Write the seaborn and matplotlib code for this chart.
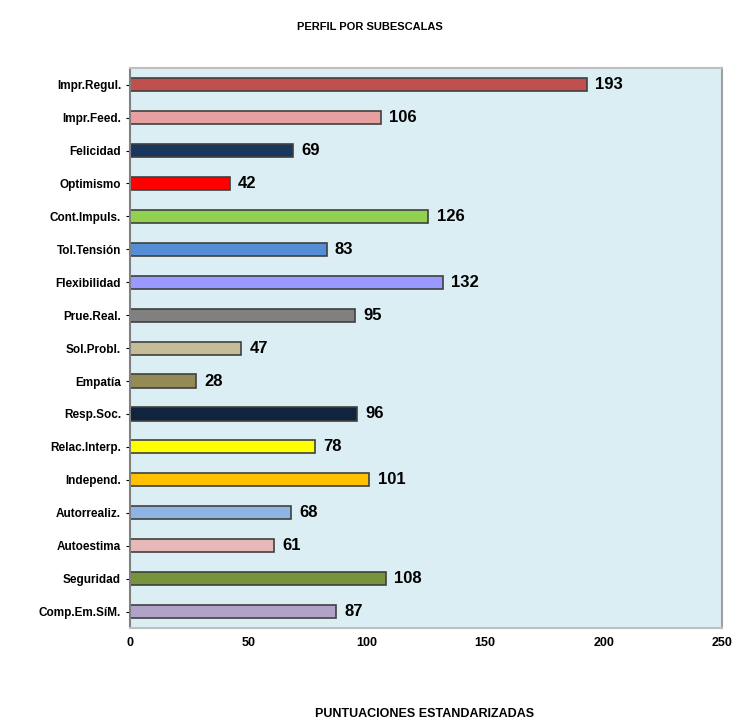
import pandas as pd
import matplotlib.pyplot as plt
import seaborn as sns

# subescalas y puntuaciones
subescalas = ["Impr.Regul.", "Impr.Feed.", "Felicidad", "Optimismo", "Cont.Impuls.",
              "Tol.Tensión", "Flexibilidad", "Prue.Real.", "Sol.Probl.", "Empatía",
              "Resp.Soc.", "Relac.Interp.", "Independ.", "Autorrealiz.", "Autoestima",
              "Seguridad", "Comp.Em.SíM."]
puntuaciones = [193, 106, 69, 42, 126, 83, 132, 95, 47, 28, 96, 78, 101, 68, 61, 108, 87]
colores = ["#C0504D", "#E6A0A0", "#17375E", "#FF0000", "#92D050", "#558ED5", "#9999FF",
           "#808080", "#C4BD97", "#948A54", "#10243E", "#FFFF00", "#FFC000", "#8DB4E2",
           "#E6B9B8", "#77933C", "#B3A2C7"]
ticks_x = [0, 50, 100, 150, 200, 250]

df = pd.DataFrame({"subescala": subescalas, "puntuacion": puntuaciones})

sns.set_style("white")
plt.rcParams["font.family"] = ["Liberation Sans", "DejaVu Sans"]
plt.rcParams["text.color"] = "black"
plt.rcParams["xtick.color"] = "black"
plt.rcParams["ytick.color"] = "black"

fig = plt.figure(figsize=(7.39, 7.26), dpi=100)
ax = fig.add_axes([0.176, 0.135, 0.801, 0.771])
ax.set_facecolor("#DAEEF3")

sns.barplot(data=df, x="puntuacion", y="subescala", hue="subescala", palette=colores,
            saturation=1, orient="h", width=0.4, edgecolor="#404040", linewidth=1.2,
            legend=False, ax=ax)

for cont in ax.containers:
    ax.bar_label(cont, padding=6, fontsize=12, fontweight="bold", color="black")

ax.set_xlim(0, 250)
ax.set_xticks(ticks_x)
ax.set_xlabel("")
ax.set_ylabel("")
ax.tick_params(axis="x", labelsize=9, length=3)
ax.tick_params(axis="y", labelsize=8.5, length=3, left=True)
for lbl in ax.get_yticklabels() + ax.get_xticklabels():
    lbl.set_fontweight("bold")
for s in ax.spines.values():
    s.set_color("#BFBFBF")
    s.set_linewidth(1.5)
ax.spines["left"].set_color("#808080")
ax.spines["right"].set_color("#A0A0A0")

fig.text(0.5, 0.958, "PERFIL POR SUBESCALAS", ha="center", fontsize=8, fontweight="bold")
fig.text(0.575, 0.013, "PUNTUACIONES ESTANDARIZADAS", ha="center", fontsize=9,
         fontweight="bold")

plt.savefig("out.png", dpi=100)
